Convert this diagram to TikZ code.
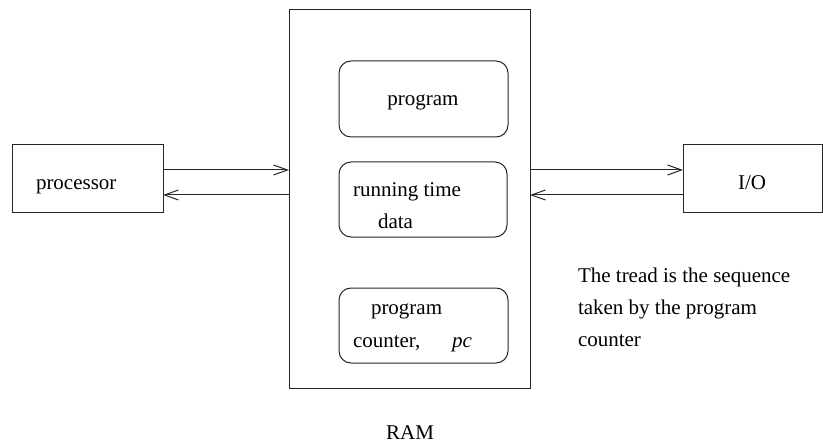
\documentclass[tikz,border=0pt]{standalone}
\usepackage{fontspec}
\setmainfont{Liberation Serif}
\usetikzlibrary{arrows.meta}
\begin{document}
\begin{tikzpicture}[x=0.5pt,y=-0.5pt,
  font=\fontsize{10.5}{16}\selectfont,
  every node/.style={inner sep=0pt,outer sep=0pt},
  unit/.style={draw=black!85,line width=0.5pt,rectangle},
  part/.style={draw=black!85,line width=0.5pt,rectangle,rounded corners=6pt},
  lbl/.style={anchor=base west},
  arr/.style={draw=black!85,line width=0.5pt,-{Straight Barb[length=7pt,width=5pt]}}]
\useasboundingbox (0,0) rectangle (823,443);

% outer units
\node[unit,minimum width=75.5pt,minimum height=33.5pt] (proc) at (87.5,178.5) {};
\node[unit,minimum width=120.5pt,minimum height=189pt] (ram) at (409.5,199) {};
\node[unit,minimum width=69.5pt,minimum height=33.5pt] (io) at (752.5,178.5) {};

% memory contents
\node[part,minimum width=84.5pt,minimum height=38pt] (prog) at (423.5,99) {};
\node[part,minimum width=84pt,minimum height=37.5pt] (data) at (423,199.5) {};
\node[part,minimum width=84.5pt,minimum height=37.5pt] (pcbox) at (423.5,325.5) {};

% labels
\node[lbl] (tproc) at (36,190) {processor};
\node[lbl] (tio) at (738,190) {I/O};
\node[anchor=base] (tprog) at (423,106) {program};
\node[lbl] (trun) at (353,197) {running time};
\node[lbl] (tdata) at (378,228) {data};
\node[lbl] (tpc1) at (371,314) {program};
\node[lbl] (tpc2) at (353,347) {counter,};
\node[lbl] (tpc3) at (452,347) {\itshape pc};
\node[anchor=base] (tram) at (410,439) {RAM};
\node[lbl] (tn1) at (578,282) {The tread is the sequence};
\node[lbl] (tn2) at (578,314) {taken by the program};
\node[lbl] (tn3) at (578,346) {counter};

% connectors
\draw[arr] (proc.east |- 0,170) -- (ram.west |- 0,170);
\draw[arr] (ram.west |- 0,195) -- (proc.east |- 0,195);
\draw[arr] (ram.east |- 0,170) -- (io.west |- 0,170);
\draw[arr] (io.west |- 0,195) -- (ram.east |- 0,195);
\end{tikzpicture}
\end{document}
